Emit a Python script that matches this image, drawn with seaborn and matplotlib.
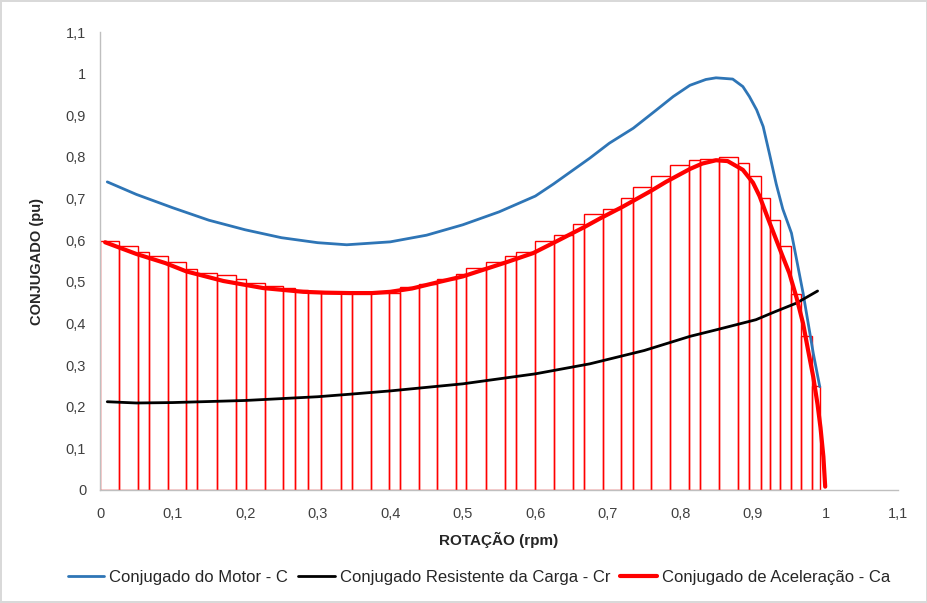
import numpy as np
import pandas as pd
import seaborn as sns
import matplotlib.pyplot as plt

# Bar edges (rotation, pu) and heights of the stepped acceleration torque
bar_edges = [0.0, 0.0255, 0.052, 0.067, 0.093, 0.119, 0.134, 0.161, 0.187, 0.201,
             0.228, 0.2525, 0.269, 0.287, 0.305, 0.3315, 0.347, 0.373, 0.3985, 0.4135,
             0.44, 0.4645, 0.4905, 0.505, 0.532, 0.558, 0.573, 0.599, 0.626, 0.652,
             0.667, 0.693, 0.7185, 0.734, 0.759, 0.785, 0.8115, 0.8265, 0.853, 0.879,
             0.894, 0.9115, 0.924, 0.937, 0.9525, 0.9665, 0.9815, 0.9925]
bar_heights = [0.599, 0.587, 0.572, 0.562, 0.547, 0.532, 0.522, 0.517, 0.507, 0.498,
               0.490, 0.486, 0.481, 0.475, 0.473, 0.473, 0.474, 0.474, 0.474, 0.488,
               0.495, 0.506, 0.519, 0.533, 0.547, 0.561, 0.572, 0.597, 0.612, 0.639,
               0.663, 0.675, 0.701, 0.727, 0.753, 0.780, 0.792, 0.796, 0.799, 0.785,
               0.753, 0.701, 0.649, 0.587, 0.470, 0.370, 0.250]

# Motor torque
motor_x = [0.01, 0.05, 0.1, 0.15, 0.2, 0.25, 0.3, 0.34, 0.4, 0.45, 0.5, 0.55, 0.6,
           0.625, 0.65, 0.675, 0.702, 0.735, 0.767, 0.79, 0.813, 0.835, 0.849, 0.872,
           0.886, 0.895, 0.905, 0.914, 0.923, 0.932, 0.941, 0.953, 0.969, 0.983, 0.992]
motor_y = [0.740, 0.710, 0.678, 0.648, 0.625, 0.606, 0.594, 0.589, 0.596, 0.612,
           0.637, 0.668, 0.706, 0.735, 0.766, 0.797, 0.833, 0.869, 0.913, 0.945,
           0.972, 0.986, 0.990, 0.987, 0.969, 0.945, 0.913, 0.873, 0.805, 0.735,
           0.675, 0.617, 0.473, 0.329, 0.248]

# Load torque
load_x = [0.01, 0.05, 0.1, 0.2, 0.3, 0.344, 0.4, 0.5, 0.6, 0.675, 0.75, 0.813,
          0.85, 0.904, 0.93, 0.96, 0.989]
load_y = [0.212, 0.209, 0.210, 0.215, 0.224, 0.230, 0.238, 0.255, 0.279, 0.303,
          0.335, 0.369, 0.385, 0.409, 0.428, 0.449, 0.478]

# Acceleration torque
accel_x = [0.007, 0.05, 0.09, 0.119, 0.17, 0.225, 0.28, 0.31, 0.344, 0.375, 0.4,
           0.43, 0.468, 0.5, 0.53, 0.56, 0.597, 0.63, 0.668, 0.69, 0.72, 0.758,
           0.78, 0.813, 0.83, 0.849, 0.865, 0.886, 0.9, 0.909, 0.92, 0.932, 0.94,
           0.95, 0.96, 0.969, 0.976, 0.983, 0.989, 0.993, 0.997, 0.9995]
accel_y = [0.595, 0.567, 0.545, 0.525, 0.502, 0.485, 0.476, 0.474, 0.473, 0.473,
           0.476, 0.484, 0.500, 0.513, 0.530, 0.547, 0.569, 0.598, 0.632, 0.653,
           0.680, 0.717, 0.740, 0.771, 0.784, 0.792, 0.790, 0.769, 0.738, 0.706,
           0.655, 0.601, 0.565, 0.521, 0.462, 0.400, 0.335, 0.272, 0.205, 0.150,
           0.080, 0.008]

tick_vals = [0, 0.1, 0.2, 0.3, 0.4, 0.5, 0.6, 0.7, 0.8, 0.9, 1.0, 1.1]
tick_labels = ['0', '0,1', '0,2', '0,3', '0,4', '0,5', '0,6', '0,7', '0,8', '0,9', '1', '1,1']

sns.set_style("white")
plt.rcParams['font.family'] = ['Liberation Sans', 'DejaVu Sans']

fig = plt.figure(figsize=(9.28, 6.03), dpi=100, linewidth=1.5, edgecolor='#d9d9d9')
ax = fig.add_axes([0.1078, 0.1874, 0.86, 0.7595])

edges = np.array(bar_edges)
ax.bar(edges[:-1], bar_heights, width=np.diff(edges), align='edge',
       facecolor='none', edgecolor='#ff0000', linewidth=1.0, zorder=2)

sns.lineplot(x=motor_x, y=motor_y, sort=False, color='#2e75b6', linewidth=2,
             label='Conjugado do Motor - C', ax=ax, zorder=3)
sns.lineplot(x=load_x, y=load_y, sort=False, color='black', linewidth=2,
             label='Conjugado Resistente da Carga - Cr', ax=ax, zorder=3)
sns.lineplot(x=accel_x, y=accel_y, sort=False, color='#ff0000', linewidth=3,
             label='Conjugado de Aceleração - Ca', ax=ax, zorder=4)

ax.set_xlim(0, 1.1)
ax.set_ylim(0, 1.1)
ax.set_xticks(tick_vals)
ax.set_xticklabels(tick_labels)
ax.set_yticks(tick_vals)
ax.set_yticklabels(tick_labels)
ax.tick_params(labelsize=10.5, length=0, colors='#404040')
ax.tick_params(axis='x', pad=12)
ax.tick_params(axis='y', pad=10)

for s in ['top', 'right']:
    ax.spines[s].set_visible(False)
for s in ['left', 'bottom']:
    ax.spines[s].set_color('#bfbfbf')
    ax.spines[s].set_linewidth(1)

ax.set_xlabel('ROTAÇÃO (rpm)', fontsize=11, fontweight='bold', color='#262626', labelpad=8)
ax.set_ylabel('CONJUGADO (pu)', fontsize=10.5, fontweight='bold', color='#262626', labelpad=16)

ax.legend(loc='center', bbox_to_anchor=(0.516, 0.043), bbox_transform=fig.transFigure,
          ncol=3, frameon=False, fontsize=12, handlelength=2.2,
          handletextpad=0.3, columnspacing=0.6)

fig.savefig('out.png', dpi=100)
